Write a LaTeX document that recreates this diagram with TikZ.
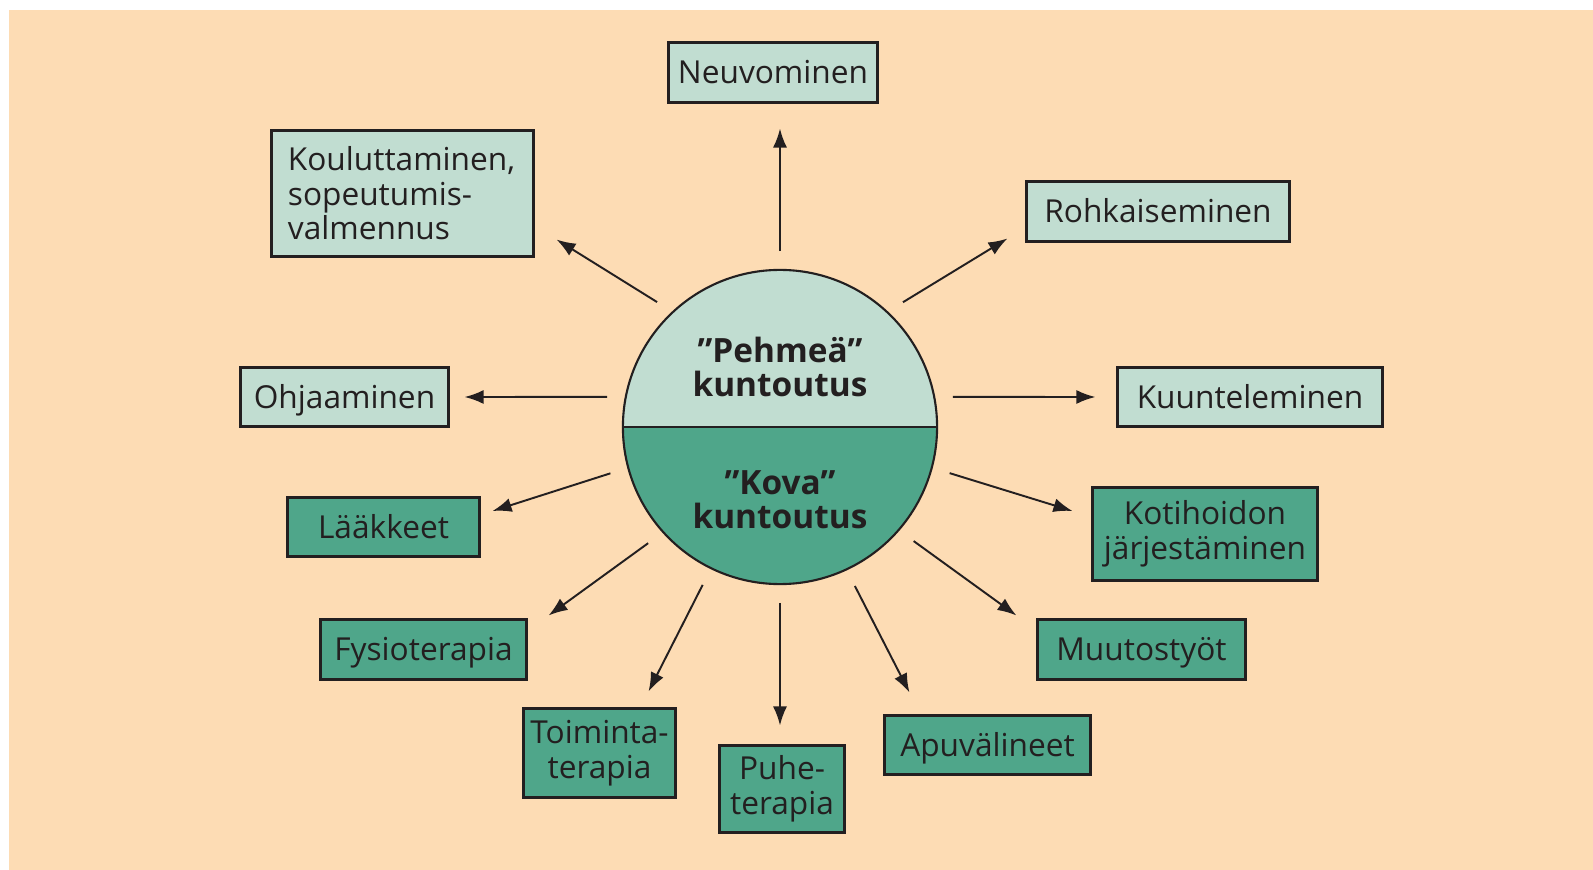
\documentclass[tikz,border=0pt]{standalone}
\usepackage{fontspec}
\setmainfont{Open Sans}
\usetikzlibrary{arrows.meta,positioning,calc}
\definecolor{peach}{HTML}{FDDCB4}
\definecolor{softgreen}{HTML}{C1DDD1}
\definecolor{hardgreen}{HTML}{4FA68A}
\definecolor{inkline}{HTML}{231F20}

\tikzset{
  boxbase/.style={draw=inkline, line width=0.85pt, inner sep=0pt, align=center,
    font=\fontsize{9}{9.8}\selectfont, text=inkline},
  softbox/.style={boxbase, fill=softgreen},
  hardbox/.style={boxbase, fill=hardgreen},
  oneline/.style={text height=6.4pt, text depth=0pt},
  circtext/.style={align=center, inner sep=0pt, text=inkline,
    font=\bfseries\fontsize{9.5}{9.6}\selectfont},
  arr/.style={-{Latex[length=1.9mm,width=1.4mm]}, line width=0.55pt, draw=inkline,
    shorten <=1.8mm},
}

\begin{document}
\begin{tikzpicture}[x=0.01cm, y=-0.01cm]
  % Background
  \fill[white] (0,0) rectangle (1593,870);
  \fill[peach] (9,10) rectangle (1593,870);
  \useasboundingbox (0,0) rectangle (1593,870);

  % Centre circle, two halves
  \node[circle, minimum size=3.14cm, inner sep=0pt] (circ) at (780,427) {};
  \fill[softgreen] (circ.west) arc[start angle=180, end angle=0, radius=1.57cm] -- cycle;
  \fill[hardgreen] (circ.west) arc[start angle=180, end angle=360, radius=1.57cm] -- cycle;
  \draw[inkline, line width=0.6pt] (circ.center) circle[radius=1.57cm];
  \draw[inkline, line width=0.6pt] (circ.west) -- (circ.east);
  \node[circtext] (pehmea) at (780,367) {”Pehmeä”\\kuntoutus};
  \node[circtext] (kova) at (780,500) {”Kova”\\kuntoutus};

  % Soft boxes
  \node[softbox, oneline, minimum width=2.08cm, minimum height=0.59cm] (neuv) at (773,72.5) {Neuvominen};
  \node[softbox, align=left, text width=2.29cm, minimum width=2.61cm, minimum height=1.25cm] (koul) at (402.5,193.5) {Kouluttaminen,\\sopeutumis-\\valmennus};
  \node[softbox, oneline, minimum width=2.62cm, minimum height=0.59cm] (rohk) at (1158,211.5) {Rohkaiseminen};
  \node[softbox, oneline, minimum width=2.07cm, minimum height=0.59cm] (ohja) at (344.5,397) {Ohjaaminen};
  \node[softbox, oneline, minimum width=2.64cm, minimum height=0.58cm] (kuun) at (1250,397) {Kuunteleminen};

  % Hard boxes
  \node[hardbox, oneline, minimum width=1.91cm, minimum height=0.58cm] (laak) at (383.5,527) {Lääkkeet};
  \node[hardbox, minimum width=2.24cm, minimum height=0.92cm] (koti) at (1205,534) {Kotihoidon\\järjestäminen};
  \node[hardbox, oneline, minimum width=2.05cm, minimum height=0.59cm] (fysio) at (423.5,649.5) {Fysioterapia};
  \node[hardbox, oneline, minimum width=2.07cm, minimum height=0.59cm] (muut) at (1141.5,649.5) {Muutostyöt};
  \node[hardbox, minimum width=1.51cm, minimum height=0.88cm] (toim) at (599.5,753) {Toiminta-\\terapia};
  \node[hardbox, minimum width=1.24cm, minimum height=0.86cm] (puhe) at (782,789) {Puhe-\\terapia};
  \node[hardbox, oneline, minimum width=2.05cm, minimum height=0.58cm] (apuv) at (987.5,745) {Apuvälineet};

  % Arrows out of the circle
  \draw[arr] (circ.90)  -- ($(neuv.south)+(7,25)$);
  \draw[arr] (circ.133) -- ($(koul.south east)+(22,-18)$);
  \draw[arr] (circ.47)  -- ($(rohk.south west)+(-18,-4)$);
  \draw[arr] (circ.169) -- ($(ohja.east)+(15,0)$);
  \draw[arr] (circ.11)  -- ($(kuun.west)+(-21,0)$);
  \draw[arr] (circ.195) -- ($(laak.east)+(12,-16)$);
  \draw[arr] (circ.345) -- ($(koti.west)+(-19,-23)$);
  \draw[arr] (circ.222) -- ($(fysio.north east)+(21,-3)$);
  \draw[arr] (circ.319) -- ($(muut.north west)+(-20,-3)$);
  \draw[arr] (circ.244) -- ($(toim.north east)+(-28,-16)$);
  \draw[arr] (circ.270) -- ($(puhe.north)+(-2,-19)$);
  \draw[arr] (circ.295) -- ($(apuv.north west)+(26,-22)$);
\end{tikzpicture}
\end{document}
